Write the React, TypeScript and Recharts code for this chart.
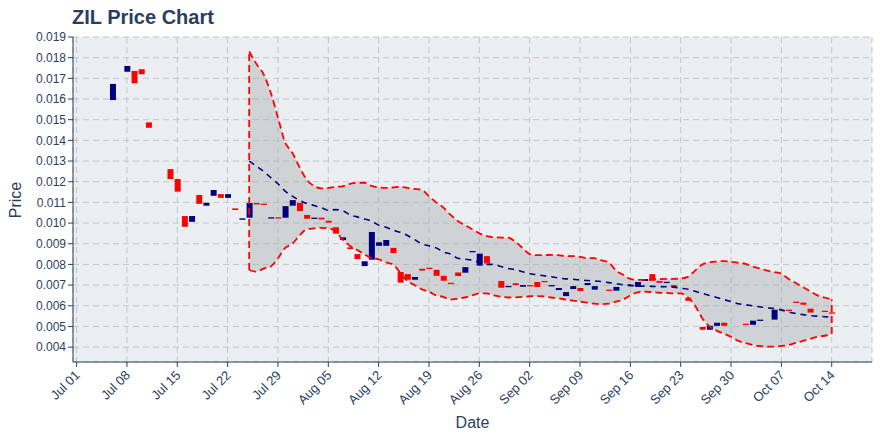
import React from 'react'
import { ComposedChart, Bar, Area, Line, XAxis, YAxis, CartesianGrid, ReferenceLine } from 'recharts'

// day index: 0 = Jul 01
const tickDays = [0, 7, 14, 21, 28, 35, 42, 49, 56, 63, 70, 77, 84, 91, 98, 105]
const tickLabels = ['Jul 01', 'Jul 08', 'Jul 15', 'Jul 22', 'Jul 29', 'Aug 05', 'Aug 12', 'Aug 19', 'Aug 26', 'Sep 02', 'Sep 09', 'Sep 16', 'Sep 23', 'Sep 30', 'Oct 07', 'Oct 14']
const priceTicks = [0.004, 0.005, 0.006, 0.007, 0.008, 0.009, 0.01, 0.011, 0.012, 0.013, 0.014, 0.015, 0.016, 0.017, 0.018, 0.019]

// candles (bodies only)
const candleDays = [5, 7, 8, 9, 10, 13, 14, 15, 16, 17, 18, 19, 20, 21, 22, 23, 24, 25, 26, 27, 28, 29, 30, 31, 32, 33, 34, 35, 36, 37, 38, 39, 40, 41, 42, 43, 44, 45, 46, 47, 48, 49, 50, 51, 52, 53, 54, 55, 56, 57, 59, 60, 61, 62, 63, 64, 65, 66, 67, 68, 69, 70, 71, 72, 74, 75, 77, 78, 79, 80, 81, 82, 83, 85, 87, 88, 89, 90, 93, 94, 95, 97, 99, 100, 101, 102, 104, 105]
const opens = [0.01595, 0.01732, 0.01736, 0.01744, 0.01487, 0.01261, 0.01213, 0.01034, 0.01006, 0.01136, 0.01084, 0.01132, 0.0114, 0.01122, 0.01071, 0.01016, 0.01026, 0.01097, 0.01094, 0.01024, 0.01028, 0.01026, 0.01084, 0.01098, 0.01039, 0.01021, 0.01026, 0.01011, 0.0098, 0.00918, 0.00883, 0.0085, 0.00792, 0.00823, 0.0089, 0.0089, 0.0088, 0.00763, 0.00753, 0.00726, 0.00779, 0.00784, 0.00774, 0.00745, 0.00711, 0.00761, 0.0076, 0.0086, 0.00794, 0.0084, 0.0072, 0.00692, 0.00709, 0.00692, 0.007, 0.00715, 0.0072, 0.00695, 0.00676, 0.00647, 0.00681, 0.00686, 0.007, 0.00678, 0.00678, 0.00673, 0.00694, 0.00691, 0.0072, 0.00753, 0.0072, 0.00711, 0.007, 0.00639, 0.00498, 0.00484, 0.00503, 0.00518, 0.00513, 0.00508, 0.00528, 0.00533, 0.00581, 0.0062, 0.00615, 0.00586, 0.00576, 0.00568]
const closes = [0.01673, 0.0176, 0.01676, 0.0172, 0.01461, 0.01213, 0.01152, 0.00982, 0.01034, 0.01093, 0.01098, 0.0116, 0.01122, 0.0114, 0.01063, 0.01023, 0.01097, 0.0109, 0.0109, 0.01028, 0.01024, 0.01082, 0.01111, 0.01058, 0.01021, 0.01026, 0.01018, 0.01002, 0.00949, 0.00931, 0.00874, 0.00826, 0.00815, 0.00957, 0.00907, 0.00918, 0.00855, 0.00712, 0.00726, 0.00739, 0.0077, 0.00779, 0.00745, 0.00721, 0.00707, 0.00744, 0.00787, 0.00865, 0.00852, 0.00805, 0.00687, 0.00696, 0.007, 0.007, 0.00697, 0.00691, 0.00716, 0.007, 0.00686, 0.00666, 0.00695, 0.00671, 0.0071, 0.00695, 0.00673, 0.00691, 0.007, 0.00715, 0.00729, 0.00721, 0.00711, 0.00716, 0.00689, 0.00624, 0.00484, 0.00503, 0.00518, 0.00503, 0.00508, 0.00528, 0.00533, 0.00581, 0.00576, 0.00615, 0.00605, 0.00567, 0.00571, 0.00566]

// bollinger bands, days 24..105
const bandStart = 24
const upperBand = [0.0183, 0.0177, 0.0172, 0.0163, 0.0151, 0.0139, 0.0134, 0.0127, 0.0121, 0.0118, 0.01168, 0.0117, 0.01175, 0.01178, 0.0119, 0.01195, 0.01195, 0.0118, 0.01172, 0.0117, 0.01172, 0.01176, 0.0117, 0.01165, 0.0116, 0.0113, 0.011, 0.01075, 0.0104, 0.0101, 0.0099, 0.0097, 0.0095, 0.00937, 0.00932, 0.0093, 0.0093, 0.0091, 0.0088, 0.0085, 0.00845, 0.00845, 0.00846, 0.00845, 0.0084, 0.0084, 0.00837, 0.0083, 0.0083, 0.0082, 0.0081, 0.0077, 0.0075, 0.0073, 0.00725, 0.00725, 0.00727, 0.00729, 0.0073, 0.0073, 0.00732, 0.0074, 0.0077, 0.008, 0.0081, 0.00814, 0.00816, 0.00813, 0.00808, 0.00803, 0.0079, 0.0078, 0.0077, 0.00763, 0.00755, 0.0073, 0.0071, 0.0069, 0.0067, 0.0065, 0.0064, 0.0063]
const middleBand = [0.013, 0.01275, 0.0125, 0.0122, 0.0119, 0.01155, 0.0113, 0.0111, 0.01095, 0.01085, 0.01075, 0.01062, 0.01065, 0.0106, 0.0104, 0.0103, 0.0102, 0.0101, 0.0099, 0.0098, 0.00966, 0.00955, 0.0094, 0.0092, 0.009, 0.0089, 0.0088, 0.0086, 0.0085, 0.0083, 0.00825, 0.0082, 0.0081, 0.008, 0.008, 0.0079, 0.0078, 0.00775, 0.00765, 0.00755, 0.0075, 0.00745, 0.0074, 0.00735, 0.0073, 0.00728, 0.00725, 0.00722, 0.0072, 0.00717, 0.00712, 0.00707, 0.00702, 0.007, 0.00695, 0.00695, 0.00694, 0.00693, 0.00692, 0.0069, 0.00685, 0.0068, 0.0067, 0.0066, 0.0065, 0.0064, 0.0063, 0.0062, 0.0061, 0.00605, 0.006, 0.00595, 0.0059, 0.00587, 0.0058, 0.0057, 0.00563, 0.00557, 0.00552, 0.0055, 0.00547, 0.00544]
const lowerBand = [0.00773, 0.00765, 0.0078, 0.0079, 0.0083, 0.0088, 0.009, 0.0094, 0.0097, 0.00974, 0.00977, 0.00975, 0.0096, 0.0092, 0.0089, 0.0087, 0.0085, 0.0083, 0.00825, 0.0081, 0.008, 0.0076, 0.0072, 0.007, 0.0068, 0.00668, 0.0065, 0.00643, 0.0063, 0.00635, 0.0064, 0.0065, 0.0066, 0.0066, 0.0065, 0.00644, 0.0064, 0.00641, 0.00643, 0.00646, 0.00647, 0.00645, 0.0064, 0.00636, 0.0063, 0.00625, 0.0062, 0.00615, 0.0061, 0.00608, 0.0061, 0.0062, 0.0063, 0.0065, 0.00665, 0.00668, 0.00666, 0.00663, 0.00662, 0.0066, 0.0066, 0.0064, 0.006, 0.0054, 0.005, 0.0048, 0.00465, 0.0045, 0.0043, 0.0042, 0.0041, 0.00405, 0.00402, 0.00402, 0.00406, 0.0041, 0.0042, 0.0043, 0.0044, 0.0045, 0.00455, 0.00463]

const BLUE = '#000080'
const RED = '#ff0000'
const TEXT = '#2a3f5f'
const FONT = '"Liberation Sans", Arial, sans-serif'

const rows: any[] = []
for (let d = 5; d <= 105; d++) {
  const row: any = { day: d, body: null, up: true, upper: null, mid: null, lower: null, band: null }
  const ci = candleDays.indexOf(d)
  if (ci >= 0) {
    const o = opens[ci]
    const c = closes[ci]
    row.body = [Math.min(o, c), Math.max(o, c)]
    row.up = c >= o
  }
  const bi = d - bandStart
  if (bi >= 0 && bi < upperBand.length) {
    row.upper = upperBand[bi]
    row.mid = middleBand[bi]
    row.lower = lowerBand[bi]
    row.band = [lowerBand[bi], upperBand[bi]]
  }
  rows.push(row)
}
const lastBand = upperBand.length - 1

const CandleBody = (props: any) => {
  const { x, y, width, height, payload } = props
  if (x == null || y == null) return null
  const h = Math.max(height || 0, 1.3)
  return <rect x={x} y={y} width={width} height={h} fill={payload.up ? BLUE : RED} />
}

const XTick = (props: any) => {
  const { x, y, payload } = props
  const i = tickDays.indexOf(payload.value)
  return (
    <text
      x={x + 4}
      y={y + 7}
      transform={`rotate(-45, ${x + 4}, ${y + 7})`}
      textAnchor="end"
      fontSize={13}
      fontFamily={FONT}
      fill={TEXT}
    >
      {tickLabels[i]}
    </text>
  )
}

const PriceLabel = () => (
  <text
    x={21}
    y={200}
    transform="rotate(-90, 21, 200)"
    textAnchor="middle"
    fontSize={16}
    fontFamily={FONT}
    fill={TEXT}
  >
    Price
  </text>
)

export default function App() {
  return (
    <div style={{ position: 'absolute', left: 0, top: 0, width: 880, height: 440, background: '#fff' }}>
      <ComposedChart
        width={880}
        height={440}
        data={rows}
        margin={{ top: 37, right: 8, bottom: 0, left: 0 }}
      >
        <text x={72} y={24} fontSize={20} fontWeight="bold" fontFamily={FONT} fill={TEXT}>
          ZIL Price Chart
        </text>
        <CartesianGrid stroke="#c2c6c9" strokeDasharray="6 4" fill="#eceff1" />
        <XAxis
          dataKey="day"
          type="number"
          domain={[-0.5, 110.6]}
          ticks={tickDays}
          allowDataOverflow
          height={78}
          tick={<XTick />}
          tickSize={5}
          axisLine={{ stroke: TEXT }}
          tickLine={{ stroke: TEXT }}
          interval={0}
          label={{ value: 'Date', position: 'insideBottom', offset: 12, fontSize: 16, fill: TEXT, fontFamily: FONT }}
        />
        <YAxis
          type="number"
          domain={[0.00328, 0.019]}
          ticks={priceTicks}
          allowDataOverflow
          width={73}
          tickFormatter={(v: number) => v.toFixed(3)}
          tick={{ fontSize: 12, fill: TEXT, fontFamily: FONT }}
          tickSize={5}
          axisLine={{ stroke: TEXT }}
          tickLine={{ stroke: TEXT }}
          interval={0}
          label={<PriceLabel />}
        />
        <Area
          dataKey="band"
          type="monotone"
          stroke="none"
          fill="#a8abad"
          fillOpacity={0.4}
          isAnimationActive={false}
          connectNulls={false}
        />
        <Line dataKey="upper" type="monotone" stroke={RED} strokeWidth={1.8} strokeDasharray="7 4" dot={false} isAnimationActive={false} />
        <Line dataKey="lower" type="monotone" stroke={RED} strokeWidth={1.8} strokeDasharray="7 4" dot={false} isAnimationActive={false} />
        <Line dataKey="mid" type="monotone" stroke={BLUE} strokeWidth={1.6} strokeDasharray="6 5" dot={false} isAnimationActive={false} />
        <ReferenceLine
          segment={[{ x: bandStart, y: lowerBand[0] }, { x: bandStart, y: upperBand[0] }]}
          stroke={RED}
          strokeWidth={1.8}
          strokeDasharray="7 4"
        />
        <ReferenceLine
          segment={[{ x: bandStart + lastBand, y: lowerBand[lastBand] }, { x: bandStart + lastBand, y: upperBand[lastBand] }]}
          stroke={RED}
          strokeWidth={1.8}
          strokeDasharray="7 4"
        />
        <Bar dataKey="body" barSize={6} shape={<CandleBody />} isAnimationActive={false} />
      </ComposedChart>
    </div>
  )
}
